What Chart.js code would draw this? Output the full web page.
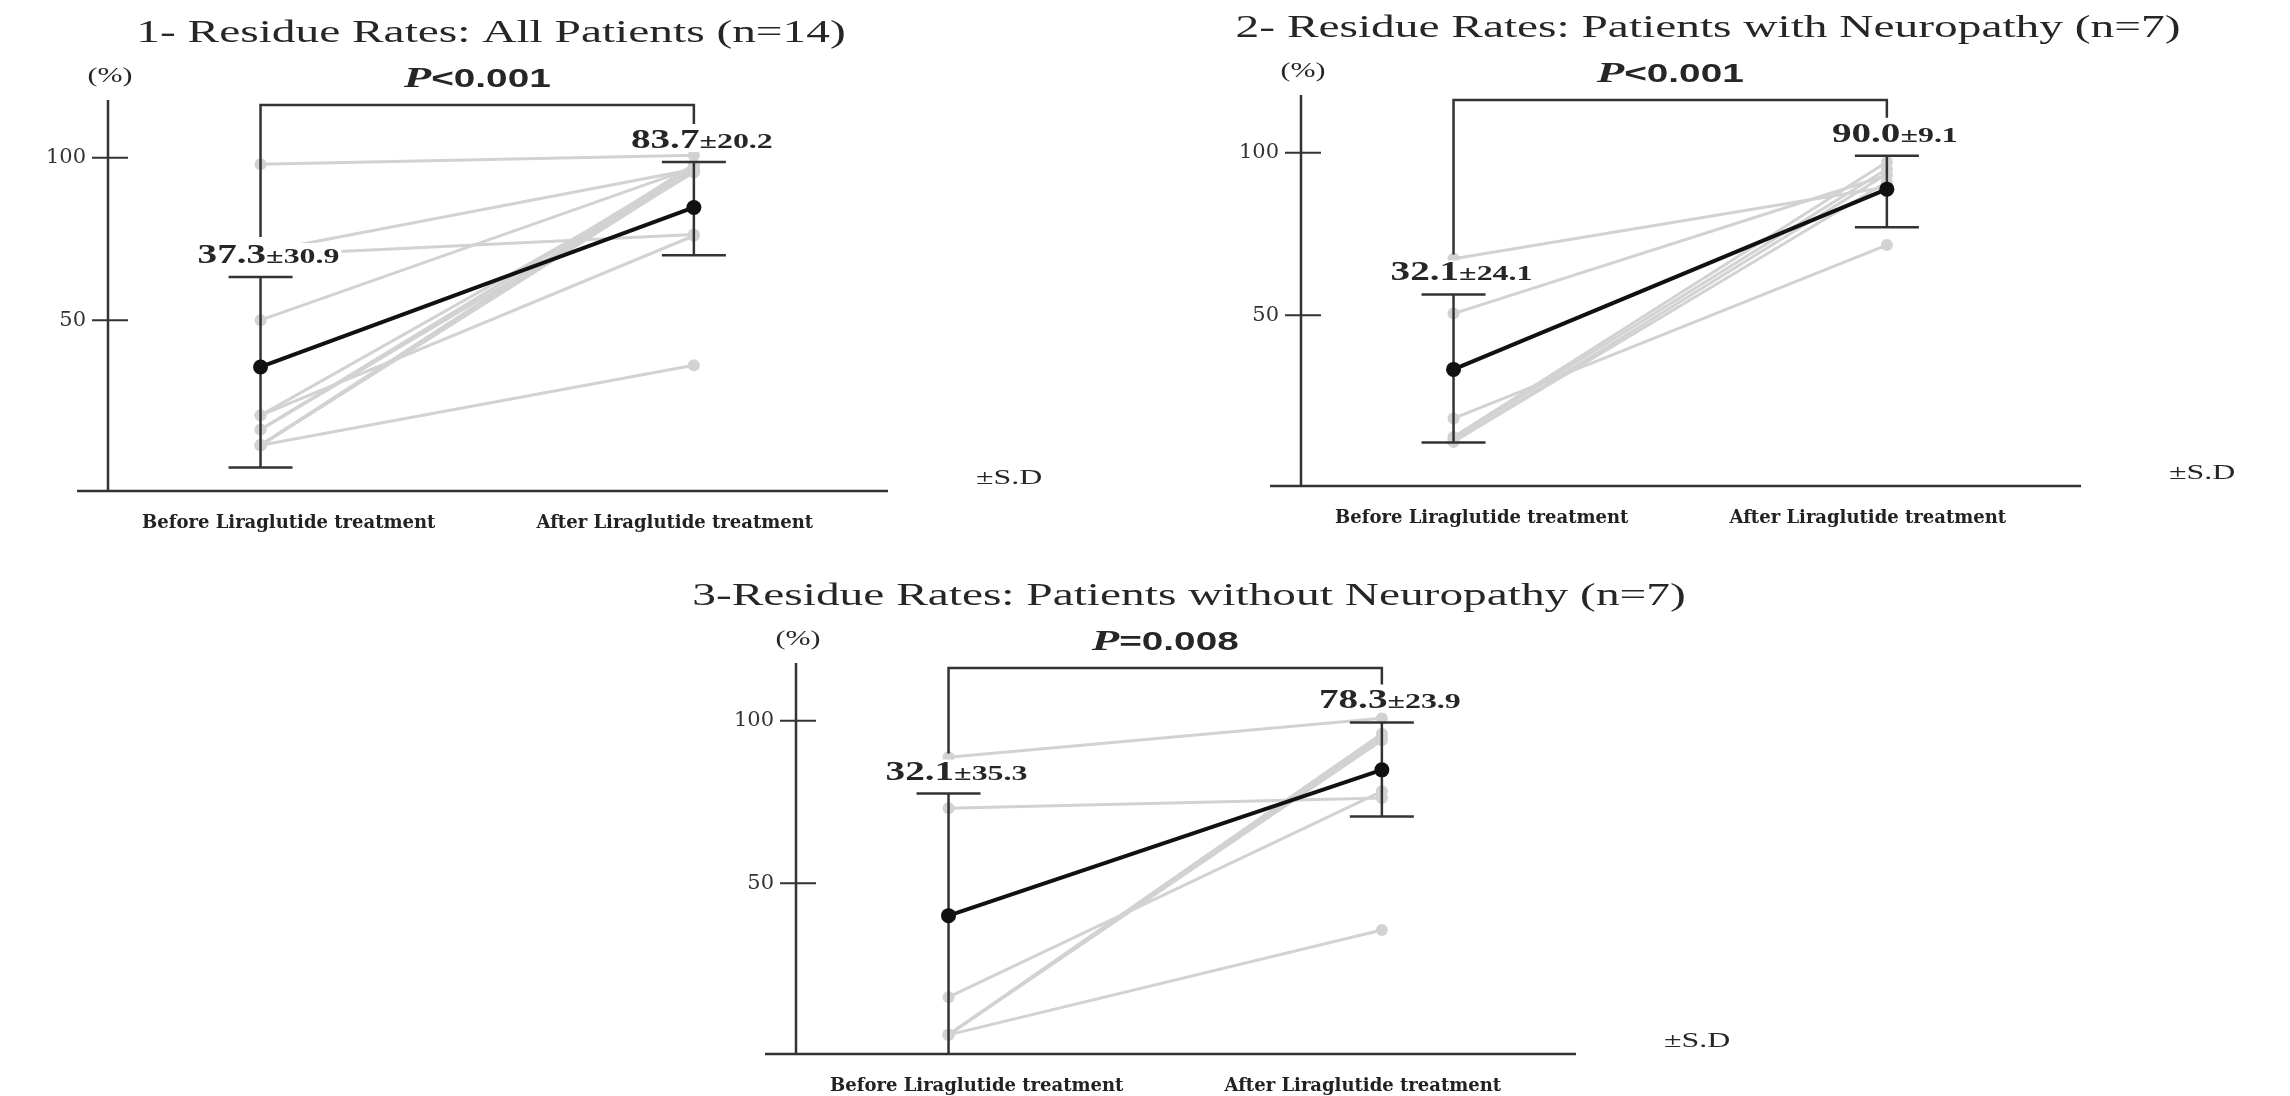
<!DOCTYPE html>
<html>
<head>
<meta charset="utf-8">
<script src="https://cdn.jsdelivr.net/npm/chart.js@4.4.1/dist/chart.umd.min.js"></script>
<style>
  body { margin: 0; width: 2290px; height: 1096px; background: #fff; overflow: hidden; position: relative; }
  canvas { position: absolute; }
</style>
</head>
<body>
<canvas id="c1" width="1110" height="581"></canvas>
<canvas id="c2" width="1110" height="581"></canvas>
<canvas id="c3" width="1110" height="581"></canvas>
<script>
// ===== DATA =====
const categories = ["Before Liraglutide treatment", "After Liraglutide treatment"];
const yTicks = [50, 100];

const titles = [
    "1- Residue Rates: All Patients (n=14)",
    "2- Residue Rates: Patients with Neuropathy (n=7)",
    "3-Residue Rates: Patients without Neuropathy (n=7)"
];
const pSymbols = ["<0.001", "<0.001", "=0.008"];

// all patients (n=14)
const allBefore = [98.0, 71.0, 70.0, 50.0, 20.7, 20.7, 16.3, 16.3, 11.5, 11.5, 11.5, 11.5, 11.5, 11.5];
const allAfter  = [100.8, 96.5, 76.4, 97.0, 76.0, 96.0, 97.5, 95.5, 36.1, 96.5, 97.0, 95.8, 98.0, 96.2];
const allMean   = [35.6, 84.7];
const allUpper  = [63.3, 98.7];
const allLower  = [4.6, 70.0];
const allMeanText = ["37.3", "83.7"];
const allSdText   = ["±30.9", "±20.2"];

// with neuropathy (n=7)
const neuroBefore = [67.4, 50.5, 18.2, 12.5, 12.0, 11.0, 11.0];
const neuroAfter  = [89.5, 93.1, 71.6, 97.2, 95.0, 93.5, 91.0];
const neuroMean   = [33.3, 88.8];
const neuroUpper  = [56.4, 99.1];
const neuroLower  = [10.8, 77.1];
const neuroMeanText = ["32.1", "90.0"];
const neuroSdText   = ["±24.1", "±9.1"];

// without neuropathy (n=7)
const nonBefore = [88.8, 73.1, 14.9, 3.3, 3.3, 3.3, 3.3];
const nonAfter  = [100.8, 76.2, 78.3, 35.6, 96.0, 95.0, 94.0];
const nonMean   = [40.0, 84.9];
const nonUpper  = [77.6, 99.5];
const nonLower  = [-6.0, 70.5];
const nonMeanText = ["32.1", "78.3"];
const nonSdText   = ["±35.3", "±23.9"];

// x positions of the category labels (slightly off the point columns in the figure)
const labelPos = [0.065, 0.956];

// ===== LAYOUT =====
const panels = [
    { id: "c1", left: -42, top: -30, title: titles[0], p: pSymbols[0], titleDx: 383,
      before: allBefore, after: allAfter, mean: allMean, upper: allUpper, lower: allLower,
      meanText: allMeanText, sdText: allSdText },
    { id: "c2", left: 1151, top: -35, title: titles[1], p: pSymbols[1], titleDx: 407,
      before: neuroBefore, after: neuroAfter, mean: neuroMean, upper: neuroUpper, lower: neuroLower,
      meanText: neuroMeanText, sdText: neuroSdText },
    { id: "c3", left: 646, top: 533, title: titles[2], p: pSymbols[2], titleDx: 393,
      before: nonBefore, after: nonAfter, mean: nonMean, upper: nonUpper, lower: nonLower,
      meanText: nonMeanText, sdText: nonSdText }
];

const INK = "#262626";
const GREY = "#d2d2d2";

// draws text pieces on one baseline, stretched horizontally like the original figure
function drawParts(ctx, parts, x, y, sx, align) {
    let w = 0;
    parts.forEach(p => { ctx.font = p.font; w += ctx.measureText(p.text).width; });
    const start = align === "left" ? x : x - w * sx / 2;
    ctx.save();
    ctx.translate(start, y);
    ctx.scale(sx, 1);
    ctx.textAlign = "left";
    let cx = 0;
    parts.forEach(p => {
        ctx.font = p.font;
        ctx.fillText(p.text, cx, 0);
        cx += ctx.measureText(p.text).width;
    });
    ctx.restore();
    return w * sx;
}

function seg(ctx, x1, y1, x2, y2) {
    ctx.beginPath();
    ctx.moveTo(x1, y1);
    ctx.lineTo(x2, y2);
    ctx.stroke();
}

const annotate = {
    id: "annotate",
    beforeDatasetDraw(chart, args, opts) {
        if (args.index !== 0) return; // mean line is drawn last, on top
        const { ctx, chartArea: a, scales: { x, y } } = chart;
        const p = opts.panel;
        ctx.save();
        ctx.strokeStyle = "#333";
        ctx.lineWidth = 2.5;

        // error bars (±S.D)
        ctx.save();
        ctx.beginPath();
        ctx.rect(a.left, a.top, a.right - a.left, a.bottom - a.top);
        ctx.clip();
        p.mean.forEach((m, i) => {
            const px = x.getPixelForValue(i);
            const hi = y.getPixelForValue(p.upper[i]);
            const lo = y.getPixelForValue(p.lower[i]);
            seg(ctx, px, hi, px, lo);
            seg(ctx, px - 32, hi, px + 32, hi);
            seg(ctx, px - 32, lo, px + 32, lo);
        });
        ctx.restore();

        // significance bracket
        const x0 = x.getPixelForValue(0), x1 = x.getPixelForValue(1);
        const by = a.top + 5;
        const l0 = y.getPixelForValue(p.upper[0]) - 14 - 26;
        const l1 = y.getPixelForValue(p.upper[1]) - 14 - 24;
        ctx.beginPath();
        ctx.moveTo(x0, l0);
        ctx.lineTo(x0, by);
        ctx.lineTo(x1, by);
        ctx.lineTo(x1, l1);
        ctx.stroke();
        ctx.restore();
    },
    afterDraw(chart, args, opts) {
        const { ctx, chartArea: a, scales: { x, y } } = chart;
        const p = opts.panel;
        ctx.save();

        // axes
        ctx.strokeStyle = "#333";
        ctx.lineWidth = 2.5;
        seg(ctx, a.left, a.top, a.left, a.bottom);
        seg(ctx, a.left - 31, a.bottom, a.right, a.bottom);
        ctx.lineWidth = 2;
        y.ticks.forEach(t => {
            const ty = y.getPixelForValue(t.value);
            seg(ctx, a.left - 16, ty, a.left + 20, ty);
        });

        ctx.fillStyle = INK;
        ctx.textBaseline = "middle";

        // title
        drawParts(ctx, [{ text: p.title, font: '32px "Liberation Serif"' }],
            a.left + p.titleDx, a.top - 66, 1.48);

        // unit
        drawParts(ctx, [{ text: "(%)", font: '20px "Liberation Serif"' }], a.left + 2, a.top - 23, 1.5);

        // ±S.D
        drawParts(ctx, [{ text: "±S.D", font: '22px "Liberation Serif"' }], a.right + 88, a.bottom - 13, 1.45, "left");

        // P value
        ctx.textBaseline = "alphabetic";
        const midX = (x.getPixelForValue(0) + x.getPixelForValue(1)) / 2;
        drawParts(ctx, [
            { text: "P", font: 'italic bold 29px "Liberation Serif"' },
            { text: p.p, font: 'bold 25px "Liberation Sans"' }
        ], midX, a.top - 13, 1.55);

        // mean ± SD labels
        p.mean.forEach((m, i) => {
            const px = x.getPixelForValue(i) + 8;
            const base = y.getPixelForValue(p.upper[i]) - 14;
            const parts = [
                { text: p.meanText[i], font: 'bold 27px "Liberation Serif"' },
                { text: p.sdText[i], font: 'bold 22px "Liberation Serif"' }
            ];
            let w = 0;
            parts.forEach(q => { ctx.font = q.font; w += ctx.measureText(q.text).width; });
            w *= 1.45;
            ctx.fillStyle = "#fff";
            ctx.fillRect(px - w / 2 - 2, base - 20, w + 4, 24);
            ctx.fillStyle = INK;
            drawParts(ctx, parts, px, base, 1.45);
        });
        ctx.restore();
    }
};

panels.forEach(p => {
    const canvas = document.getElementById(p.id);
    canvas.style.left = p.left + "px";
    canvas.style.top = p.top + "px";

    const patients = p.before.map((b, i) => ({
        data: [{ x: 0, y: b }, { x: 1, y: p.after[i] }],
        borderColor: GREY,
        borderWidth: 3,
        pointRadius: 6,
        pointBackgroundColor: GREY,
        pointBorderWidth: 0
    }));

    const meanSet = {
        data: p.mean.map((m, i) => ({ x: i, y: m })),
        borderColor: "#111",
        borderWidth: 4,
        pointRadius: 7.5,
        pointBackgroundColor: "#111",
        pointBorderWidth: 0
    };

    new Chart(canvas, {
        type: "line",
        data: { datasets: [meanSet, ...patients] },
        options: {
            responsive: false,
            animation: false,
            devicePixelRatio: 1,
            layout: { padding: { left: 0, top: 130, right: 180, bottom: 0 }, autoPadding: false },
            plugins: {
                legend: { display: false },
                tooltip: { enabled: false },
                annotate: { panel: p }
            },
            scales: {
                x: {
                    type: "linear",
                    min: -0.352,
                    max: 1.448,
                    grid: { display: false, drawTicks: false },
                    border: { display: false },
                    afterBuildTicks: s => { s.ticks = labelPos.map(v => ({ value: v })); },
                    afterFit: s => { s.height = 60; },
                    ticks: {
                        autoSkip: false,
                        maxRotation: 0,
                        padding: 22,
                        color: "#222",
                        font: { family: "DejaVu Serif", weight: "bold", size: 18 },
                        callback: (v, i) => categories[i]
                    }
                },
                y: {
                    min: -2.6,
                    max: 117.8,
                    grid: { display: false, drawTicks: false },
                    border: { display: false },
                    afterBuildTicks: s => { s.ticks = yTicks.map(v => ({ value: v })); },
                    afterFit: s => { s.width = 150; },
                    ticks: {
                        padding: 22,
                        color: "#333",
                        font: { family: "DejaVu Serif", size: 21 }
                    }
                }
            }
        },
        plugins: [annotate]
    });
});
</script>
</body>
</html>
